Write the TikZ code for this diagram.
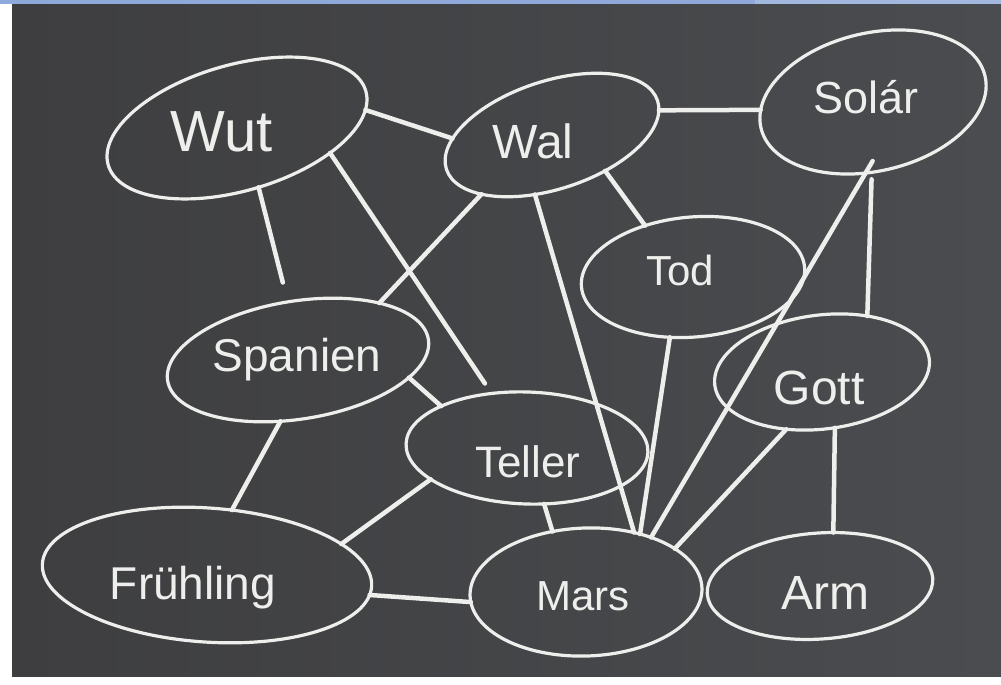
\documentclass[tikz,border=0pt]{standalone}
\usepackage{fontspec}
\setmainfont{Liberation Sans}
\usetikzlibrary{shapes.geometric}
\definecolor{boardL}{HTML}{3E3E40}
\definecolor{boardR}{HTML}{4A4C4F}
\definecolor{chalk}{HTML}{EEEEEC}
\definecolor{strip}{HTML}{8FAADA}
\definecolor{stripR}{HTML}{A2B8DE}
\begin{document}
\begin{tikzpicture}[x=1pt,y=-1pt,
  blob/.style={ellipse, draw=chalk, line width=3.2pt, inner sep=0pt, outer sep=0pt},
  word/.style={text=chalk, inner sep=0pt, font=\fontsize{46}{46}\selectfont},
  link/.style={draw=chalk, line width=4.5pt, line cap=round}]
\useasboundingbox (0,0) rectangle (1001,685);
% background
\fill[white] (0,0) rectangle (1001,685);
\shade[left color=boardL, right color=boardR] (12,4) rectangle (1001,676);
\fill[strip] (0,0) rectangle (755,4);
\fill[stripR] (755,0) rectangle (1001,4);
% ellipses
\node[blob, minimum width=268pt, minimum height=126pt, rotate=16] (wut) at (237,128) {};
\node[blob, minimum width=222pt, minimum height=108pt, rotate=18] (wal) at (552,135) {};
\node[blob, minimum width=230pt, minimum height=138pt, rotate=13] (solar) at (873,102) {};
\node[blob, minimum width=224pt, minimum height=120pt, rotate=5] (tod) at (693,277) {};
\node[blob, minimum width=264pt, minimum height=118pt, rotate=9] (spanien) at (298,360) {};
\node[blob, minimum width=216pt, minimum height=114pt, rotate=7] (gott) at (822,372) {};
\node[blob, minimum width=242pt, minimum height=112pt, rotate=-2] (teller) at (527,448) {};
\node[blob, minimum width=330pt, minimum height=134pt, rotate=-4] (fruehling) at (207,575) {};
\node[blob, minimum width=232pt, minimum height=128pt, rotate=2] (mars) at (586,592) {};
\node[blob, minimum width=226pt, minimum height=106pt, rotate=4] (arm) at (820,586) {};
% words
\node[word, font=\fontsize{58}{58}\selectfont] (wutT) at (222,132) {Wut};
\node[word, font=\fontsize{48}{48}\selectfont] (walT) at (533,141) {Wal};
\node[word, font=\fontsize{45}{45}\selectfont] (solarT) at (866,97) {Solár};
\node[word, font=\fontsize{42}{42}\selectfont] (todT) at (680,270) {Tod};
\node[word] (spanienT) at (297,360) {Spanien};
\node[word, font=\fontsize{48}{48}\selectfont] (gottT) at (819,388) {Gott};
\node[word, font=\fontsize{44}{44}\selectfont] (tellerT) at (528,462) {Teller};
\node[word] (fruehlingT) at (193,588) {Frühling};
\node[word, font=\fontsize{42}{42}\selectfont] (marsT) at (583,596) {Mars};
\node[word, font=\fontsize{48}{48}\selectfont] (armT) at (825,593) {Arm};
% connectors
\draw[link] (wut.-8) -- (wal.164);
\draw[link] (wal.-5) -- (solar.171);
\draw[link, shorten >=20pt] (wut.-86) -- (spanien.91);
\draw[link, shorten >=12pt] (wut.-31.5) -- (teller.125);
\draw[link] (wal.202) -- (spanien.26);
\draw[link] (wal.-52) -- (tod.128);
\draw[link] (wal.-124) -- (mars.49);
\draw[link] (tod.-116) -- (mars.45);
\draw[link, shorten <=-14pt] (solar.-109) -- (mars.38);
\draw[link, shorten <=7pt] (solar.-104) -- (gott.44);
\draw[link] (gott.-129) -- (mars.24);
\draw[link] (gott.-84) -- (arm.72);
\draw[link] (spanien.-115) -- (fruehling.73);
\draw[link] (spanien.-18) -- (teller.156);
\draw[link] (teller.200) -- (fruehling.17);
\draw[link] (teller.-71) -- (mars.117);
\draw[link] (fruehling.-3) -- (mars.183);
\end{tikzpicture}
\end{document}
